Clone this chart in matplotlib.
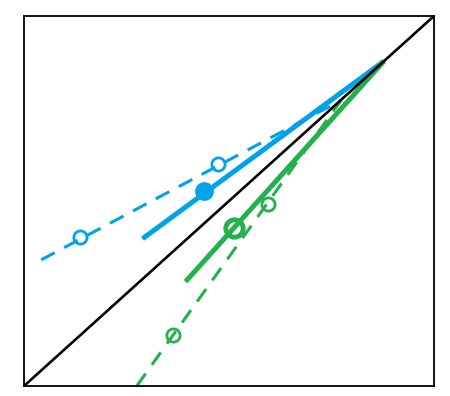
import matplotlib
matplotlib.use("Agg")
import matplotlib.pyplot as plt

# Data (axes units 0..1)
diag_x = [0.0, 1.0]
diag_y = [0.0, 1.0]

blue_solid_x = [0.289, 0.878]
blue_solid_y = [0.398, 0.878]
blue_big_x = [0.440]
blue_big_y = [0.528]

blue_dash_x = [0.042, 0.773]
blue_dash_y = [0.341, 0.772]
blue_circ_x = [0.137, 0.474]
blue_circ_y = [0.404, 0.599]

green_solid_x = [0.394, 0.878]
green_solid_y = [0.282, 0.878]
green_big_x = [0.513]
green_big_y = [0.428]

green_dash_x = [0.275, 0.773]
green_dash_y = [0.0, 0.772]
green_circ_x = [0.364, 0.594]
green_circ_y = [0.138, 0.493]

BLUE = "#00A2E8"
GREEN = "#22B14C"

fig = plt.figure(figsize=(4.5, 3.96), dpi=100)
ax = fig.add_axes([24/450, (396-386)/396, 410/450, 370/396])
ax.set_xlim(0, 1)
ax.set_ylim(0, 1)
ax.set_xticks([])
ax.set_yticks([])
for s in ax.spines.values():
    s.set_linewidth(1.3)
    s.set_color("black")

ax.plot(diag_x, diag_y, color="black", lw=1.9, solid_capstyle="butt", zorder=3)

ax.plot(blue_dash_x, blue_dash_y, color=BLUE, lw=2.2, linestyle=(0, (5.0, 3.5)), zorder=2)
ax.plot(blue_circ_x, blue_circ_y, linestyle="none", marker="o", ms=9.5,
        mfc="none", mec=BLUE, mew=2.0, zorder=2)
ax.plot(blue_solid_x, blue_solid_y, color=BLUE, lw=3.6, solid_capstyle="butt", zorder=2)
ax.plot(blue_big_x, blue_big_y, linestyle="none", marker="o", ms=12,
        mfc=BLUE, mec=BLUE, mew=1.5, zorder=2)

ax.plot(green_dash_x, green_dash_y, color=GREEN, lw=2.2, linestyle=(0, (5.0, 3.5)), zorder=2)
ax.plot(green_circ_x, green_circ_y, linestyle="none", marker="o", ms=9.5,
        mfc="none", mec=GREEN, mew=2.0, zorder=2)
ax.plot(green_solid_x, green_solid_y, color=GREEN, lw=3.6, solid_capstyle="butt", zorder=2)
ax.plot(green_big_x, green_big_y, linestyle="none", marker="o", ms=12.5,
        mfc="none", mec=GREEN, mew=3.5, zorder=2)

fig.savefig("out.png", dpi=100)
